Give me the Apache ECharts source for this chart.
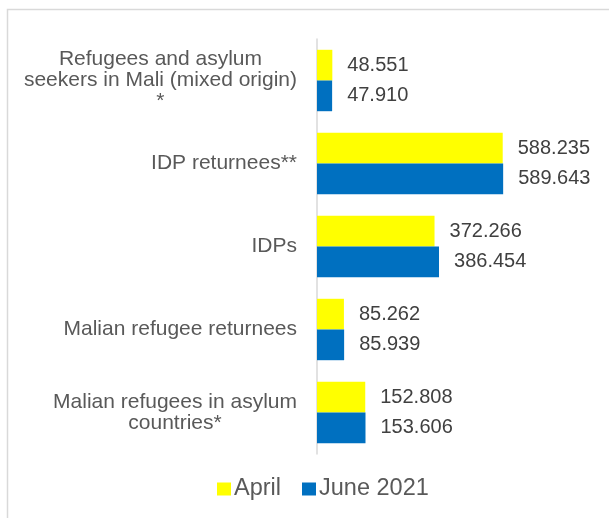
<!DOCTYPE html>
<html>
<head>
<meta charset="utf-8">
<script src="https://cdn.jsdelivr.net/npm/echarts@6/dist/echarts.min.js"></script>
<style>
html,body{margin:0;padding:0;background:#fff;}
#chart{width:609px;height:518px;}
</style>
</head>
<body>
<div id="chart"></div>
<script>
const categories = [
  "Refugees and asylum\nseekers in Mali (mixed origin)\n*",
  "IDP returnees**",
  "IDPs",
  "Malian refugee returnees",
  "Malian refugees in asylum\ncountries*"
];
const seriesNames = ["April", "June 2021"];
const aprilValues = [48551, 588235, 372266, 85262, 152808];
const juneValues = [47910, 589643, 386454, 85939, 153606];
const colors = ["#FFFF00", "#0070C0"];

function fmt(v) {
  const th = Math.floor(v / 1000);
  const rest = String(v % 1000).padStart(3, "0");
  return th + "." + rest;
}

const chart = echarts.init(document.getElementById("chart"));
const labelStyle = {
  show: true,
  position: "right",
  distance: 15,
  fontFamily: "Liberation Sans, Arial, sans-serif",
  fontSize: 20,
  color: "#404040",
  formatter: p => fmt(p.value)
};
chart.setOption({
  animation: false,
  backgroundColor: "#ffffff",
  graphic: [{
    type: "rect",
    shape: { x: 7.5, y: 9.5, width: 700, height: 600 },
    style: { fill: "none", stroke: "#d9d9d9", lineWidth: 1.5 },
    silent: true,
    z: -10
  }],
  legend: {
    data: seriesNames,
    left: 212,
    top: 472,
    itemWidth: 14,
    itemHeight: 13,
    itemGap: 21,
    icon: "rect",
    textStyle: {
      fontFamily: "Liberation Sans, Arial, sans-serif",
      fontSize: 23.5,
      color: "#595959",
      padding: [0, 0, 0, -2]
    }
  },
  grid: { left: 317, top: 39, height: 415, width: 221 },
  xAxis: {
    type: "value",
    min: 0,
    max: 700000,
    show: false
  },
  yAxis: {
    type: "category",
    data: categories,
    inverse: true,
    axisLine: { show: true, lineStyle: { color: "#d9d9d9", width: 1.5 } },
    axisTick: { show: false },
    splitLine: { show: false },
    axisLabel: {
      margin: 20,
      align: "right",
      formatter: v => v.split("\n").map(l => "{c|" + l + "}").join("\n"),
      rich: {
        c: {
          align: "center",
          fontFamily: "Liberation Sans, Arial, sans-serif",
          fontSize: 21,
          lineHeight: 21,
          color: "#595959"
        }
      }
    }
  },
  series: [
    {
      name: seriesNames[0],
      type: "bar",
      data: aprilValues,
      itemStyle: { color: colors[0] },
      barGap: "0%",
      barCategoryGap: "26%",
      label: labelStyle
    },
    {
      name: seriesNames[1],
      type: "bar",
      data: juneValues,
      itemStyle: { color: colors[1] },
      barGap: "0%",
      barCategoryGap: "26%",
      label: labelStyle
    }
  ]
});
</script>
</body>
</html>
